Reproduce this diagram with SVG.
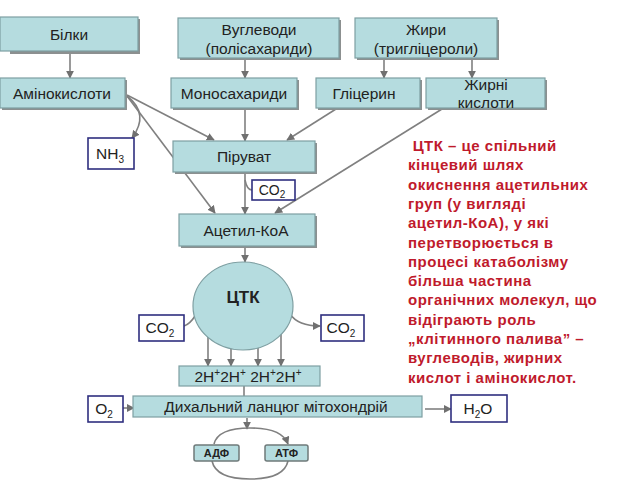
<svg xmlns="http://www.w3.org/2000/svg" width="640" height="480" viewBox="0 0 640 480">
<defs>
<style>
.box{fill:#b5dcdf;stroke:#7e9fa2;stroke-width:1.2}
.sh{fill:#8c9090}
.sm{fill:#ffffff;stroke:#2f2f7f;stroke-width:1.6}
.t{font-family:"Liberation Sans",Arial,sans-serif;font-size:15.5px;fill:#222;text-anchor:middle}
.ts{font-family:"Liberation Sans",Arial,sans-serif;font-size:14px;fill:#222;text-anchor:middle}
.sub{font-size:10px}
.b{font-family:"Liberation Sans",Arial,sans-serif;font-weight:bold;fill:#222;text-anchor:middle}
.red{font-family:"Liberation Sans",Arial,sans-serif;font-weight:bold;font-size:15px;letter-spacing:0.5px;fill:#bf1a2c}
.c{fill:none;stroke:#808080;stroke-width:1.6}
</style>
<marker id="ah" viewBox="0 0 10 10" refX="9" refY="5" markerWidth="5" markerHeight="5" orient="auto">
<path d="M0,0 L10,5 L0,10 z" fill="#707070"/>
</marker>
</defs>
<rect width="640" height="480" fill="#ffffff"/>

<g id="connectors">
<line class="c" x1="70" y1="53" x2="70" y2="78" marker-end="url(#ah)"/>
<line class="c" x1="245" y1="59" x2="245" y2="78" marker-end="url(#ah)"/>
<line class="c" x1="384" y1="59" x2="384" y2="78" marker-end="url(#ah)"/>
<line class="c" x1="472" y1="59" x2="472" y2="78" marker-end="url(#ah)"/>
<line class="c" x1="127" y1="95" x2="214" y2="140" marker-end="url(#ah)"/>
<line class="c" x1="127" y1="96" x2="215" y2="213" marker-end="url(#ah)"/>
<path class="c" d="M127,96 Q150,114 132,138" marker-end="url(#ah)"/>
<line class="c" x1="245" y1="109" x2="245" y2="141" marker-end="url(#ah)"/>
<line class="c" x1="336" y1="109" x2="287" y2="140" marker-end="url(#ah)"/>
<line class="c" x1="442" y1="109" x2="275" y2="213" marker-end="url(#ah)"/>
<line class="c" x1="245" y1="173" x2="245" y2="214" marker-end="url(#ah)"/>
<path class="c" d="M245,180 Q247,190 252,190"/>
<line class="c" x1="245" y1="247" x2="245" y2="262" marker-end="url(#ah)"/>
<path class="c" d="M195,316 Q190,324 184,326"/>
<path class="c" d="M290,314 Q298,326 320,326" marker-end="url(#ah)"/>
<line class="c" x1="208" y1="335" x2="208" y2="366" marker-end="url(#ah)"/>
<line class="c" x1="231" y1="340" x2="231" y2="366" marker-end="url(#ah)"/>
<line class="c" x1="258" y1="340" x2="258" y2="366" marker-end="url(#ah)"/>
<line class="c" x1="281" y1="334" x2="281" y2="366" marker-end="url(#ah)"/>
<line class="c" x1="244" y1="386" x2="244" y2="396"/>
<line class="c" x1="123" y1="408" x2="134" y2="408" marker-end="url(#ah)"/>
<line class="c" x1="425" y1="409" x2="451" y2="409" marker-end="url(#ah)"/>
<line class="c" x1="247" y1="418" x2="247" y2="429" marker-end="url(#ah)"/>
<path class="c" d="M214,444 Q218,428 250,428 Q282,428 288,444" marker-end="url(#ah)"/>
<path class="c" d="M288,461 Q284,479 250,479 Q216,479 212,461"/>
</g>

<g id="bilky">
<rect class="sh" x="10" y="19" width="130" height="35"/>
<rect class="box" x="0" y="17" width="138" height="34"/>
<text class="t" x="69" y="40">Білки</text>
</g>
<g id="vuhlevody">
<rect class="sh" x="180" y="20" width="161" height="40"/>
<rect class="box" x="178" y="18" width="161" height="40"/>
<text class="t" x="259" y="35">Вуглеводи</text>
<text class="t" x="259" y="54">(полісахариди)</text>
</g>
<g id="zhyry">
<rect class="sh" x="357" y="20" width="142" height="40"/>
<rect class="box" x="355" y="18" width="142" height="40"/>
<text class="t" x="426" y="35">Жири</text>
<text class="t" x="426" y="54">(тригліцероли)</text>
</g>
<g id="aminokysloty">
<rect class="sh" x="2" y="80" width="125" height="30"/>
<rect class="box" x="0" y="78" width="125" height="30"/>
<text class="t" x="62" y="99">Амінокислоти</text>
</g>
<g id="monosakharydy">
<rect class="sh" x="173" y="80" width="126" height="30"/>
<rect class="box" x="171" y="78" width="126" height="30"/>
<text class="t" x="234" y="99">Моносахариди</text>
</g>
<g id="hlitseryn">
<rect class="sh" x="318" y="80" width="104" height="30"/>
<rect class="box" x="316" y="78" width="104" height="30"/>
<text class="t" x="364" y="99">Гліцерин</text>
</g>
<g id="zhyrni">
<rect class="sh" x="428" y="80" width="119" height="30"/>
<rect class="box" x="426" y="78" width="119" height="30"/>
<text class="t" x="486" y="90">Жирні</text>
<text class="t" x="486" y="108">кислоти</text>
</g>
<g id="nh3">
<rect class="sm" x="88" y="138" width="46" height="31"/>
<text class="t" x="110" y="159">NH<tspan class="sub" dy="4">3</tspan></text>
</g>
<g id="piruvat">
<rect class="sh" x="175" y="143" width="142" height="31"/>
<rect class="box" x="173" y="141" width="142" height="31"/>
<text class="t" x="244" y="162">Піруват</text>
</g>
<g id="co2a">
<rect class="sm" x="252" y="180" width="43" height="20"/>
<text class="ts" x="272" y="195">CO<tspan class="sub" dy="3">2</tspan></text>
</g>
<g id="acetyl">
<rect class="sh" x="181" y="216" width="136" height="32"/>
<rect class="box" x="179" y="214" width="136" height="32"/>
<text class="t" x="246" y="236">Ацетил-КоА</text>
</g>
<g id="ctk">
<ellipse cx="243" cy="306" rx="50" ry="44" fill="#b5dcdf" stroke="#7e9fa2" stroke-width="1.2"/>
<text class="b" x="243" y="303" font-size="17">ЦТК</text>
</g>
<g id="co2l">
<rect class="sm" x="139" y="315" width="45" height="26"/>
<text class="t" x="160" y="333">CO<tspan class="sub" dy="4">2</tspan></text>
</g>
<g id="co2r">
<rect class="sm" x="321" y="315" width="43" height="26"/>
<text class="t" x="341" y="333">CO<tspan class="sub" dy="4">2</tspan></text>
</g>
<g id="h2">
<rect class="box" x="179" y="366" width="141" height="20"/>
<text class="t" x="248" y="382">2H<tspan class="sub" dy="-6">+</tspan><tspan dy="6">2H</tspan><tspan class="sub" dy="-6">+</tspan><tspan dy="6"> 2H</tspan><tspan class="sub" dy="-6">+</tspan><tspan dy="6">2H</tspan><tspan class="sub" dy="-6">+</tspan></text>
</g>
<g id="o2">
<rect class="sm" x="88" y="396" width="35" height="26"/>
<text class="t" x="104" y="414">O<tspan class="sub" dy="4">2</tspan></text>
</g>
<g id="chain">
<rect class="box" x="133" y="396" width="289" height="21"/>
<text class="t" x="276" y="412">Дихальний ланцюг мітохондрій</text>
</g>
<g id="h2o">
<rect class="sm" x="451" y="395" width="56" height="27"/>
<text class="t" x="478" y="414">H<tspan class="sub" dy="4">2</tspan><tspan dy="-4">O</tspan></text>
</g>
<g id="adf">
<rect x="194" y="445" width="45" height="16" rx="2" fill="#b5dcdf" stroke="#6f7a7a" stroke-width="1.5"/>
<text class="b" x="216.5" y="457" font-size="11">АДФ</text>
</g>
<g id="atf">
<rect x="265" y="445" width="43" height="16" rx="2" fill="#b5dcdf" stroke="#6f7a7a" stroke-width="1.5"/>
<text class="b" x="286.5" y="457" font-size="11">АТФ</text>
</g>

<g id="note">
<text class="red" x="408" y="151" xml:space="preserve"> ЦТК – це спільний</text>
<text class="red" x="408" y="170">кінцевий шлях</text>
<text class="red" x="408" y="189.5">окиснення ацетильних</text>
<text class="red" x="408" y="209">груп (у вигляді</text>
<text class="red" x="408" y="228">ацетил-КоА), у які</text>
<text class="red" x="408" y="247.5">перетворюється в</text>
<text class="red" x="408" y="267">процесі катаболізму</text>
<text class="red" x="408" y="286">більша частина</text>
<text class="red" x="408" y="305">органічних молекул, що</text>
<text class="red" x="408" y="324.5">відіграють роль</text>
<text class="red" x="408" y="344">„клітинного палива” –</text>
<text class="red" x="408" y="363">вуглеводів, жирних</text>
<text class="red" x="408" y="382.5">кислот і амінокислот.</text>
</g>
</svg>
